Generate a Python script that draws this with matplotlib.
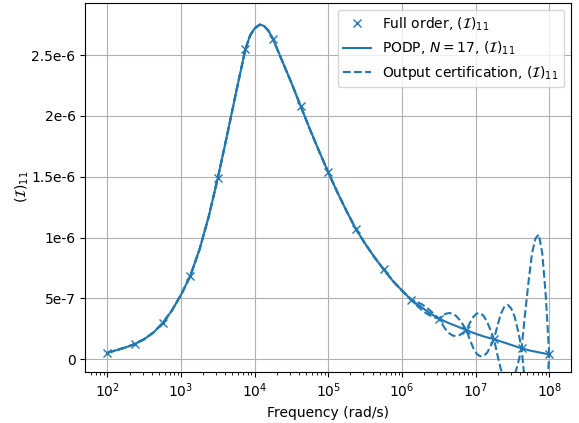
import numpy as np
import matplotlib
matplotlib.use('Agg')
import matplotlib.pyplot as plt

# full order snapshots (log10 of frequency, value in units of 1e-6)
full_exp = [2.0, 2.375, 2.75, 3.125, 3.5, 3.875, 4.25, 4.625, 5.0, 5.375,
            5.75, 6.125, 6.5, 6.875, 7.25, 7.625, 8.0]
full_val = [0.054, 0.126, 0.296, 0.684, 1.49, 2.55, 2.63, 2.08, 1.535, 1.07,
            0.74, 0.49, 0.335, 0.24, 0.165, 0.09, 0.04]

# PODP curve
podp_exp = [2.0, 2.125, 2.25, 2.375, 2.5, 2.625, 2.75, 2.875, 3.0, 3.125,
            3.25, 3.375, 3.5, 3.625, 3.75, 3.875, 3.9375, 4.0, 4.07, 4.125,
            4.1875, 4.25, 4.375, 4.5, 4.625, 4.75, 4.875, 5.0, 5.125, 5.25,
            5.375, 5.5, 5.625, 5.75, 5.875, 6.0, 6.125, 6.25, 6.375, 6.5,
            6.625, 6.75, 6.875, 7.0, 7.125, 7.25, 7.375, 7.5, 7.625, 7.75,
            7.875, 8.0]
podp_val = [0.054, 0.075, 0.098, 0.126, 0.165, 0.220, 0.296, 0.40, 0.53, 0.684,
            0.90, 1.17, 1.49, 1.84, 2.20, 2.55, 2.66, 2.72, 2.75, 2.74,
            2.70, 2.63, 2.45, 2.27, 2.08, 1.89, 1.71, 1.535, 1.37, 1.215,
            1.07, 0.95, 0.84, 0.74, 0.645, 0.565, 0.49, 0.435, 0.38, 0.335,
            0.30, 0.27, 0.24, 0.21, 0.185, 0.165, 0.14, 0.115, 0.09, 0.07,
            0.055, 0.04]

# output certification bounds where they leave the PODP curve
cert_exp = [6.125, 6.172, 6.219, 6.266, 6.313, 6.359, 6.406, 6.453, 6.5,
            6.547, 6.594, 6.641, 6.688, 6.734, 6.781, 6.828, 6.875,
            6.922, 6.969, 7.016, 7.063, 7.109, 7.156, 7.203, 7.25,
            7.297, 7.344, 7.391, 7.438, 7.484, 7.531, 7.578, 7.625,
            7.672, 7.719, 7.766, 7.813, 7.859, 7.906, 7.953, 8.0]
cert_upper = [0.49, 0.48, 0.468, 0.453, 0.435, 0.413, 0.388, 0.362, 0.335,
              0.356, 0.374, 0.380, 0.375, 0.357, 0.326, 0.285, 0.24,
              0.298, 0.348, 0.376, 0.38, 0.356, 0.309, 0.241, 0.165,
              0.275, 0.376, 0.431, 0.447, 0.418, 0.349, 0.23, 0.09,
              0.373, 0.636, 0.869, 0.992, 1.026, 0.87, 0.525, 0.04]
cert_lower = [0.49, 0.46, 0.432, 0.407, 0.385, 0.367, 0.352, 0.342, 0.335,
              0.288, 0.246, 0.214, 0.195, 0.191, 0.198, 0.217, 0.24,
              0.162, 0.092, 0.044, 0.025, 0.028, 0.053, 0.105, 0.165,
              0.035, -0.084, -0.159, -0.193, -0.182, -0.131, -0.03, 0.09,
              -0.207, -0.484, -0.731, -0.868, -0.914, -0.77, -0.435, 0.04]

ytick_vals = [0, 0.5, 1.0, 1.5, 2.0, 2.5]
ytick_labels = ['0', '5e-7', '1e-6', '1.5e-6', '2e-6', '2.5e-6']

full_f = 10 ** np.array(full_exp)
podp_f = 10 ** np.array(podp_exp)
podp_v = np.array(podp_val) * 1e-6

# dashed bounds follow the PODP curve up to the first split point
head = np.array(podp_exp) < cert_exp[0]
up_f = np.concatenate([podp_f[head], 10 ** np.array(cert_exp)])
up_v = np.concatenate([podp_v[head], np.array(cert_upper) * 1e-6])
lo_v = np.concatenate([podp_v[head], np.array(cert_lower) * 1e-6])

fig = plt.figure(figsize=(5.79, 4.23), dpi=100)
ax = fig.add_subplot(111)
fig.subplots_adjust(left=0.1473, right=0.9867, bottom=0.1213, top=0.9936)

ax.semilogx(full_f, np.array(full_val) * 1e-6, 'x', color='C0',
            label=r'Full order, $(\mathcal{I})_{11}$')
ax.semilogx(podp_f, podp_v, '-', color='C0',
            label=r'PODP, $N=17$, $(\mathcal{I})_{11}$')
ax.semilogx(up_f, up_v, '--', color='C0',
            label=r'Output certification, $(\mathcal{I})_{11}$')
ax.semilogx(up_f, lo_v, '--', color='C0')

ax.set_xlim(10 ** 1.7, 10 ** 8.3)
ax.set_ylim(-1.02e-7, 2.93e-6)
ax.set_yticks([v * 1e-6 for v in ytick_vals])
ax.set_yticklabels(ytick_labels)
ax.set_xlabel('Frequency (rad/s)')
ax.set_ylabel(r'$(\mathcal{I})_{11}$', labelpad=0)
ax.grid(True)
ax.legend(loc='upper right')

fig.savefig('out.png', dpi=100)
